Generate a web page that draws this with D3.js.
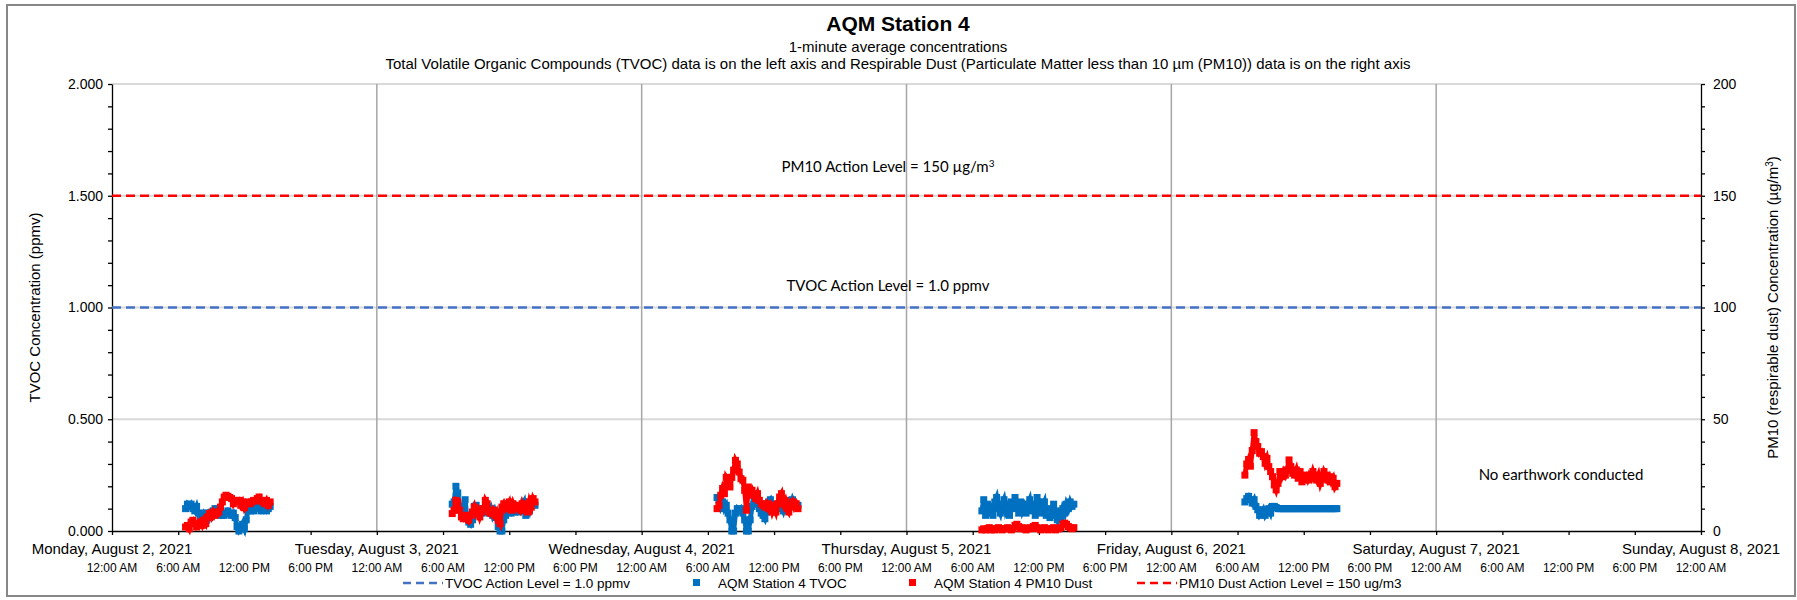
<!DOCTYPE html>
<html lang="en">

<head>
    <meta charset="UTF-8">
    <title>AQM Station 4</title>
    <script src="https://d3js.org/d3.v7.min.js"></script>
    <style>
        body {
            margin: 0;
            background: #fff;
            font-family: 'Liberation Sans', Arial, sans-serif;
        }

        text {
            fill: #000;
        }
    </style>
</head>

<body>
    <div id="chart"></div>

    <script>
        // sampling grid of the logger (values read every 10 minutes off the plot)
        const clusterDates = ['2021-08-02', '2021-08-03', '2021-08-04', '2021-08-05', '2021-08-06'];
        const clusterStarts = ['06:40', '06:50', '06:50', '06:50', '06:40'];
        const stepMinutes = 10;

        // TVOC (ppmv, left axis)
        const tvocMon = [0.10, 0.12, 0.11, 0.12, 0.10, 0.09, 0.11, 0.08, 0.07, 0.06,
            0.08, 0.07, 0.08, 0.06, 0.08, 0.09, 0.10, 0.09, 0.08, 0.07,
            0.08, 0.07, 0.08, 0.09, 0.08, 0.07, 0.08, 0.06, 0.02, 0.00,
            0.01, 0.03, 0.01, 0.05, 0.10, 0.09, 0.10, 0.09, 0.10, 0.11,
            0.10, 0.09, 0.10, 0.10, 0.09, 0.10, 0.11];
        const tvocTue = [0.12, 0.13, 0.20, 0.17, 0.11, 0.11, 0.07, 0.14, 0.055, 0.04,
            0.03, 0.05, 0.11, 0.115, 0.10, 0.09, 0.08, 0.10, 0.085, 0.09,
            0.08, 0.10, 0.07, 0.09, 0.06, 0.02, 0.00, 0.00, 0.05, 0.07,
            0.085, 0.09, 0.08, 0.09, 0.085, 0.10, 0.085, 0.09, 0.115, 0.13,
            0.07, 0.11, 0.09, 0.12, 0.13, 0.115];
        const tvocWed = [0.15, 0.14, 0.11, 0.13, 0.10, 0.115, 0.08, 0.05, 0.00, 0.00,
            0.08, 0.10, 0.09, 0.10, 0.08, 0.05, 0.00, 0.00, 0.05, 0.11,
            0.16, 0.145, 0.12, 0.10, 0.08, 0.07, 0.055, 0.085, 0.13, 0.14,
            0.115, 0.11, 0.12, 0.10, 0.115, 0.11, 0.09, 0.12, 0.11, 0.13,
            0.115, 0.14, 0.12, 0.11, 0.115];
        const tvocThu = [0.09, 0.14, 0.07, 0.12, 0.08, 0.11, 0.07, 0.13, 0.15, 0.10,
            0.08, 0.12, 0.14, 0.09, 0.11, 0.07, 0.13, 0.10, 0.15, 0.12,
            0.08, 0.13, 0.09, 0.11, 0.08, 0.12, 0.14, 0.09, 0.12, 0.07,
            0.15, 0.13, 0.08, 0.11, 0.13, 0.07, 0.10, 0.06, 0.09, 0.12,
            0.07, 0.05, 0.09, 0.06, 0.10, 0.08, 0.12, 0.10, 0.13, 0.11,
            0.12];
        const tvocFri = [0.13, 0.145, 0.155, 0.14, 0.125, 0.14, 0.11, 0.095, 0.07, 0.08,
            0.095, 0.07, 0.085, 0.10, 0.08, 0.11, 0.11, 0.105, 0.10, 0.10,
            0.10, 0.10, 0.10, 0.10, 0.10, 0.10, 0.10, 0.10, 0.10, 0.10,
            0.10, 0.10, 0.10, 0.10, 0.10, 0.10, 0.10, 0.10, 0.10, 0.10,
            0.10, 0.10, 0.10, 0.10, 0.10, 0.10, 0.10, 0.10, 0.10, 0.10,
            0.10];

        // PM10 dust (ug/m3, right axis)
        const pm10Mon = [1.8, 2.5, 1, 4, 4.8, 3.3, 1.8, 2.5, 4, 2.5,
            4.8, 3.3, 6.3, 7.8, 6.3, 8.5, 7, 7.8, 8.5, 10.7,
            13, 15.2, 16, 15.5, 15, 14.5, 12.2, 13.7, 13, 13.7,
            11.5, 13, 10.4, 12.2, 13, 12.2, 13, 13.7, 13.4, 14.5,
            15.2, 13.7, 13, 12.2, 13.7, 11.5, 13];
        const pm10Tue = [7.8, 9.3, 13.7, 13, 9.3, 6.3, 5.5, 7, 6.3, 4.8,
            7, 8.5, 10.7, 7.8, 9.3, 6.3, 8.5, 10, 13.7, 12.2,
            8.5, 7.8, 9.3, 7, 8.5, 4.8, 3.3, 10.7, 12.2, 10,
            11.5, 13, 9.3, 12.2, 10, 11.5, 10.7, 9.3, 12.2, 10,
            11.5, 8.5, 13, 10.7, 14.5, 13];
        const pm10Wed = [10, 11.5, 16, 19, 16.7, 24, 22.7, 19.7, 24, 27.2,
            31.6, 30, 26.4, 23.4, 22.7, 18.2, 9.3, 19.7, 16.7, 18.2,
            16, 14.5, 16.7, 13.7, 12.2, 11.5, 10.7, 12.2, 10, 11.5,
            8.5, 10.7, 8.5, 12.2, 15.2, 16.7, 12.2, 13.7, 10, 8.5,
            11.5, 13, 10.7, 12.2, 10];
        const pm10Thu = [0.5, 1, 0.5, 1, 1.5, 0.5, 1, 0.5, 1, 1.5,
            1, 0.5, 1, 1, 1.5, 1, 0.5, 1, 2.5, 3,
            2, 1, 1.5, 1, 0.5, 1, 1.5, 1, 2, 2.5,
            1.5, 1, 0.5, 1, 1.5, 1, 0.5, 1, 1, 1.5,
            0.5, 1, 1, 1.5, 3, 3.5, 3, 2, 1.5, 1,
            1.5];
        const pm10Fri = [25, 30, 32, 29, 36, 44, 40, 37.8, 34.8, 35.5,
            33.3, 30.3, 32.5, 28.8, 26.6, 24.3, 20.6, 18.4, 21.3, 26.6,
            24.3, 26.6, 25, 27.3, 31.8, 28.8, 25.8, 25, 27.3, 23.6,
            26.6, 22, 25, 24.3, 22.8, 25, 23.6, 26.6, 24.3, 22.8,
            25, 21.3, 23.6, 26.6, 25, 22.8, 24.3, 22, 23.6, 19.8,
            21.3];

        const tvocAction = 1.0;
        const pm10Action = 150;
        const leftTicks = [0, 0.5, 1.0, 1.5, 2.0];
        const rightTicks = [0, 50, 100, 150, 200];

        const width = 1797;
        const height = 600;
        const plot = { left: 112, right: 1701, top: 84, bottom: 531 };

        const parseTime = d3.timeParse('%Y-%m-%d %H:%M');

        function buildSeries(values, idx) {
            const t0 = parseTime(clusterDates[idx] + ' ' + clusterStarts[idx]);
            return values.map((v, i) => ({ t: d3.timeMinute.offset(t0, i * stepMinutes), v: v }));
        }

        const tvocSeries = [tvocMon, tvocTue, tvocWed, tvocThu, tvocFri].map(buildSeries);
        const pm10Series = [pm10Mon, pm10Tue, pm10Wed, pm10Thu, pm10Fri].map(buildSeries);

        const xScale = d3.scaleTime()
            .domain([new Date(2021, 7, 2), new Date(2021, 7, 8)])
            .range([plot.left, plot.right]);
        const yLeft = d3.scaleLinear().domain([0, 2]).range([plot.bottom, plot.top]);
        const yRight = d3.scaleLinear().domain([0, 200]).range([plot.bottom, plot.top]);

        const svg = d3.select('#chart')
            .append('svg')
            .attr('width', width)
            .attr('height', height);

        svg.append('rect')
            .attr('width', width)
            .attr('height', height)
            .attr('fill', '#fff');

        // outer chart border
        svg.append('rect')
            .attr('x', 7)
            .attr('y', 5)
            .attr('width', 1788)
            .attr('height', 591)
            .attr('fill', 'none')
            .attr('stroke', '#878787')
            .attr('stroke-width', 2);

        // titles
        svg.append('text')
            .attr('x', 898)
            .attr('y', 31)
            .attr('text-anchor', 'middle')
            .style('font-size', '21px')
            .style('font-weight', 'bold')
            .text('AQM Station 4');

        svg.append('text')
            .attr('x', 898)
            .attr('y', 52)
            .attr('text-anchor', 'middle')
            .style('font-size', '15px')
            .text('1-minute average concentrations');

        svg.append('text')
            .attr('x', 898)
            .attr('y', 69)
            .attr('text-anchor', 'middle')
            .style('font-size', '15px')
            .text('Total Volatile Organic Compounds (TVOC) data is on the left axis and Respirable Dust (Particulate Matter less than 10 µm (PM10)) data is on the right axis');

        // gridlines
        svg.append('g')
            .selectAll('line')
            .data(leftTicks.filter(d => d > 0))
            .enter()
            .append('line')
            .attr('x1', plot.left)
            .attr('x2', plot.right)
            .attr('y1', d => yLeft(d))
            .attr('y2', d => yLeft(d))
            .attr('stroke', '#d9d9d9')
            .attr('stroke-width', 2);

        const dayBounds = d3.timeDay.range(new Date(2021, 7, 3), new Date(2021, 7, 8));
        svg.append('g')
            .selectAll('line')
            .data(dayBounds)
            .enter()
            .append('line')
            .attr('x1', d => xScale(d))
            .attr('x2', d => xScale(d))
            .attr('y1', plot.top)
            .attr('y2', plot.bottom)
            .attr('stroke', '#a6a6a6')
            .attr('stroke-width', 1.5);

        // axes
        const minorLeft = d3.range(0, 2.0001, 0.1);
        svg.append('g')
            .attr('transform', `translate(${plot.left},0)`)
            .call(d3.axisLeft(yLeft).tickValues(minorLeft).tickFormat('').tickSize(4).tickSizeOuter(0))
            .call(g => g.selectAll('line,path').attr('stroke', '#000').attr('stroke-width', 1.3));
        svg.append('g')
            .selectAll('text')
            .data(leftTicks)
            .enter()
            .append('text')
            .attr('x', plot.left - 9)
            .attr('y', d => yLeft(d))
            .attr('dy', '0.35em')
            .attr('text-anchor', 'end')
            .style('font-size', '14px')
            .text(d3.format('.3f'));

        const minorRight = d3.range(0, 200.01, 10);
        svg.append('g')
            .attr('transform', `translate(${plot.right},0)`)
            .call(d3.axisRight(yRight).tickValues(minorRight).tickFormat('').tickSize(4).tickSizeOuter(0))
            .call(g => g.selectAll('line,path').attr('stroke', '#000').attr('stroke-width', 1.3));
        svg.append('g')
            .selectAll('text')
            .data(rightTicks)
            .enter()
            .append('text')
            .attr('x', plot.right + 12)
            .attr('y', d => yRight(d))
            .attr('dy', '0.35em')
            .attr('text-anchor', 'start')
            .style('font-size', '14px')
            .text(d => d);

        svg.append('g')
            .attr('transform', `translate(0,${plot.bottom})`)
            .call(d3.axisBottom(xScale).ticks(d3.timeHour.every(6)).tickFormat('').tickSize(4).tickSizeOuter(0))
            .call(g => g.selectAll('line,path').attr('stroke', '#000').attr('stroke-width', 1.3));

        // two-level category labels: date on the day boundary, then 6 h times
        const allDays = d3.timeDay.range(new Date(2021, 7, 2), new Date(2021, 7, 9));
        svg.append('g')
            .selectAll('text')
            .data(allDays)
            .enter()
            .append('text')
            .attr('x', d => xScale(d))
            .attr('y', 554)
            .attr('text-anchor', 'middle')
            .style('font-size', '15px')
            .text(d3.timeFormat('%A, %B %-d, %Y'));

        const sixHours = d3.timeHour.every(6).range(new Date(2021, 7, 2), new Date(2021, 7, 8, 1));
        svg.append('g')
            .selectAll('text')
            .data(sixHours)
            .enter()
            .append('text')
            .attr('x', d => xScale(d))
            .attr('y', 572)
            .attr('text-anchor', 'middle')
            .style('font-size', '12px')
            .text(d3.timeFormat('%-I:%M %p'));

        // axis titles
        svg.append('text')
            .attr('transform', `translate(35,${(plot.top + plot.bottom) / 2}) rotate(-90)`)
            .attr('dy', '0.35em')
            .attr('text-anchor', 'middle')
            .style('font-size', '15px')
            .text('TVOC Concentration (ppmv)');

        const rTitle = svg.append('text')
            .attr('transform', `translate(1773,${(plot.top + plot.bottom) / 2}) rotate(-90)`)
            .attr('dy', '0.35em')
            .attr('text-anchor', 'middle')
            .style('font-size', '15px');
        rTitle.append('tspan').text('PM10 (respirable dust) Concentration (µg/m');
        rTitle.append('tspan').attr('dy', '-5').style('font-size', '10px').text('3');
        rTitle.append('tspan').attr('dy', '5').text(')');

        // TVOC action level
        svg.append('line')
            .attr('x1', plot.left)
            .attr('x2', plot.right)
            .attr('y1', yLeft(tvocAction))
            .attr('y2', yLeft(tvocAction))
            .attr('stroke', '#4472C4')
            .attr('stroke-width', 2.5)
            .attr('stroke-dasharray', '9,5');

        // data series
        const connect = (scale) => d3.line().x(d => xScale(d.t)).y(d => scale(d.v));
        const mk = 7;

        function drawSeries(seriesList, scale, color) {
            const g = svg.append('g');
            seriesList.forEach(s => {
                g.append('path')
                    .attr('d', connect(scale)(s))
                    .attr('fill', 'none')
                    .attr('stroke', color)
                    .attr('stroke-width', 5);
                g.selectAll(null)
                    .data(s)
                    .enter()
                    .append('rect')
                    .attr('x', d => xScale(d.t) - mk / 2)
                    .attr('y', d => scale(d.v) - mk / 2)
                    .attr('width', mk)
                    .attr('height', mk)
                    .attr('fill', color);
            });
        }

        drawSeries(tvocSeries, yLeft, '#0070C0');
        drawSeries(pm10Series, yRight, '#FF0000');

        // PM10 action level
        svg.append('line')
            .attr('x1', plot.left)
            .attr('x2', plot.right)
            .attr('y1', yRight(pm10Action))
            .attr('y2', yRight(pm10Action))
            .attr('stroke', '#FF0000')
            .attr('stroke-width', 2.5)
            .attr('stroke-dasharray', '9,5');

        // annotations
        const pmNote = svg.append('text')
            .attr('x', 888)
            .attr('y', 172)
            .attr('text-anchor', 'middle')
            .style('font-family', 'Lato, sans-serif')
            .style('font-size', '15px');
        pmNote.append('tspan').text('PM10 Action Level = 150 µg/m');
        pmNote.append('tspan').attr('dy', '-5').style('font-size', '10px').text('3');

        svg.append('text')
            .attr('x', 888)
            .attr('y', 291)
            .attr('text-anchor', 'middle')
            .style('font-family', 'Lato, sans-serif')
            .style('font-size', '15px')
            .text('TVOC Action Level = 1.0 ppmv');

        svg.append('text')
            .attr('x', 1561)
            .attr('y', 480)
            .attr('text-anchor', 'middle')
            .style('font-family', 'Lato, sans-serif')
            .style('font-size', '15px')
            .text('No earthwork conducted');

        // legend
        const legendY = 583;
        const legendItems = [
            { label: 'TVOC Action Level = 1.0 ppmv', color: '#4472C4', type: 'dash', x: 403 },
            { label: 'AQM Station 4 TVOC', color: '#0070C0', type: 'square', x: 690 },
            { label: 'AQM Station 4 PM10 Dust', color: '#FF0000', type: 'square', x: 906 },
            { label: 'PM10 Dust Action Level = 150 ug/m3', color: '#FF0000', type: 'dash', x: 1137 }
        ];

        const legend = svg.selectAll('.legend')
            .data(legendItems)
            .enter()
            .append('g')
            .attr('class', 'legend')
            .attr('transform', d => `translate(${d.x},${legendY})`);

        legend.filter(d => d.type === 'dash')
            .append('line')
            .attr('x1', 0)
            .attr('x2', 40)
            .attr('stroke', d => d.color)
            .attr('stroke-width', 2.5)
            .attr('stroke-dasharray', '8,5');

        legend.filter(d => d.type === 'square')
            .append('rect')
            .attr('x', 3)
            .attr('y', -4)
            .attr('width', 7)
            .attr('height', 7)
            .attr('fill', d => d.color);

        legend.append('text')
            .attr('x', d => d.type === 'dash' ? 42 : 28)
            .attr('dy', '0.35em')
            .style('font-size', '13.5px')
            .text(d => d.label);
    </script>

</body>

</html>
